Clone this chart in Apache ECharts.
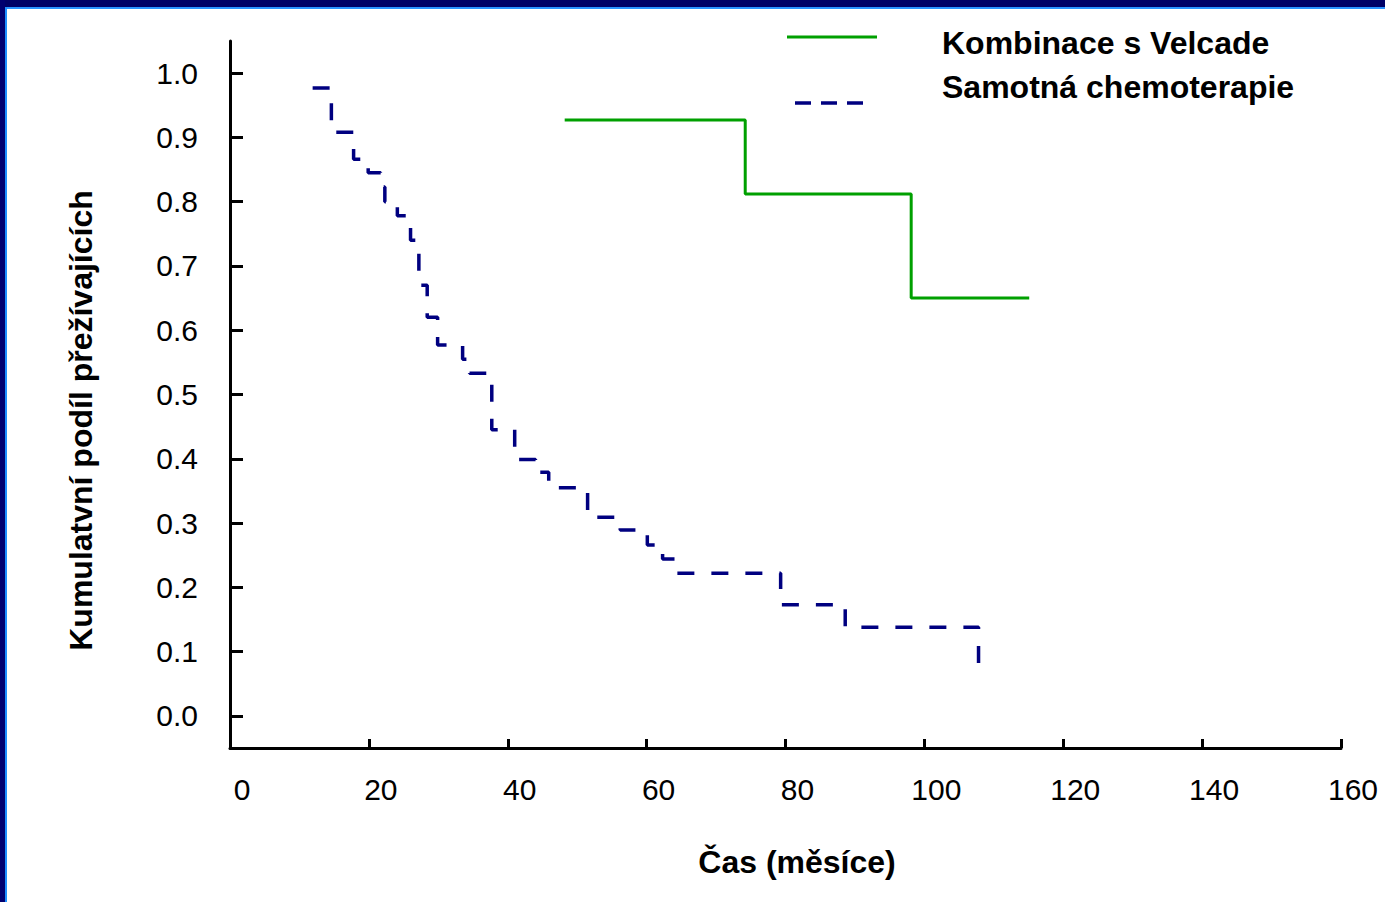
<!DOCTYPE html>
<html>
<head>
<meta charset="utf-8">
<script src="https://cdn.jsdelivr.net/npm/echarts@6/dist/echarts.min.js"></script>
<style>
    html, body { margin: 0; padding: 0; background: #fff; }
    #wrap { position: relative; width: 1385px; height: 902px; overflow: hidden; }
    #chart { position: absolute; left: 0; top: 0; width: 1385px; height: 902px; }
    /* slide frame: dark navy band with a thin light blue inner line */
    .frame { position: absolute; z-index: 5; }
    #frameTop { left: 0; top: 0; width: 1385px; height: 7px; background: #000066; }
    #frameTopIn { left: 5px; top: 7px; width: 1380px; height: 2px; background: #2b93ff; }
    #frameLeft { left: 0; top: 0; width: 5px; height: 902px; background: #000070; }
    #frameLeftIn { left: 5px; top: 7px; width: 2px; height: 895px; background: #1e8fff; }
</style>
</head>
<body>
<div id="wrap">
    <div id="chart"></div>
    <div class="frame" id="frameTop"></div>
    <div class="frame" id="frameTopIn"></div>
    <div class="frame" id="frameLeft"></div>
    <div class="frame" id="frameLeftIn"></div>
</div>
<script>
// survival curves (months, cumulative proportion surviving)
const velcadeName = 'Kombinace s Velcade';
const velcadeX = [48.2, 74.2, 98.1, 115.1];
const velcadeY = [0.927, 0.812, 0.650, 0.650];

const chemoName = 'Samotná chemoterapie';
const chemoX = [11.9, 14.6, 17.8, 19.9, 21.7, 22.3, 24.1, 26.0, 27.2, 28.4, 29.9, 33.5, 34.5,
    37.7, 41.0, 44.0, 45.9, 51.5, 56.2, 60.1, 62.3, 64.4, 79.3, 88.6, 107.8];
const chemoY = [0.977, 0.908, 0.866, 0.845, 0.823, 0.800, 0.778, 0.740, 0.670, 0.620, 0.577, 0.555, 0.533,
    0.445, 0.399, 0.379, 0.355, 0.309, 0.289, 0.266, 0.244, 0.222, 0.173, 0.138, 0.075];

// axis ticks
const xTicks = [0, 20, 40, 60, 80, 100, 120, 140, 160];
const yTicks = [0, 0.1, 0.2, 0.3, 0.4, 0.5, 0.6, 0.7, 0.8, 0.9, 1.0];

const xTitle = 'Čas (měsíce)';
const yTitle = 'Kumulatvní podíl přežívajících';

const FONT = '"Liberation Sans", Arial, sans-serif';
const GREEN = '#00a000';
const NAVY = '#000080';

const chart = echarts.init(document.getElementById('chart'), null, { renderer: 'svg' });

chart.setOption({
    animation: false,
    backgroundColor: '#fff',
    grid: { left: 230, right: 44, top: 41, bottom: 154 },
    xAxis: {
        type: 'value',
        min: xTicks[0],
        max: xTicks[xTicks.length - 1],
        interval: 20,
        name: xTitle,
        nameLocation: 'middle',
        nameGap: 98,
        nameTextStyle: { fontFamily: FONT, fontSize: 32, fontWeight: 'bold', color: '#000', padding: [0, 0, 0, 23] },
        axisLine: { onZero: false, lineStyle: { color: '#000', width: 3 } },
        axisTick: { inside: true, length: 9, lineStyle: { color: '#000', width: 3 } },
        axisLabel: {
            margin: 26,
            fontFamily: FONT, fontSize: 30, color: '#000',
            padding: [0, 0, 0, 24]
        },
        splitLine: { show: false }
    },
    yAxis: {
        type: 'value',
        min: -0.05,
        max: 1.05,
        name: yTitle,
        nameLocation: 'middle',
        nameGap: 133,
        nameTextStyle: { fontFamily: FONT, fontSize: 32, fontWeight: 'bold', color: '#000', padding: [0, 52, 0, 0] },
        axisLine: { show: true, lineStyle: { color: '#000', width: 3 } },
        axisTick: { inside: true, length: 13, customValues: yTicks, lineStyle: { color: '#000', width: 3 } },
        axisLabel: {
            margin: 32,
            customValues: yTicks,
            formatter: v => v.toFixed(1),
            fontFamily: FONT, fontSize: 30, color: '#000'
        },
        splitLine: { show: false }
    },
    series: [
        {
            name: velcadeName,
            type: 'line',
            step: 'end',
            showSymbol: false,
            data: velcadeX.map((x, i) => [x, velcadeY[i]]),
            lineStyle: { color: GREEN, width: 3, cap: 'butt' }
        },
        {
            name: chemoName,
            type: 'line',
            step: 'end',
            showSymbol: false,
            data: chemoX.map((x, i) => [x, chemoY[i]]),
            lineStyle: { color: NAVY, width: 3.5, type: [17, 17], cap: 'butt' }
        }
    ],
    // legend drawn by hand: the dashed key sits lower than its label
    graphic: [
        { type: 'line', shape: { x1: 787, y1: 37, x2: 877, y2: 37 }, style: { stroke: GREEN, lineWidth: 3 } },
        { type: 'line', shape: { x1: 795, y1: 103, x2: 863, y2: 103 }, style: { stroke: NAVY, lineWidth: 3.5, lineDash: [16, 10] } },
        { type: 'text', left: 942, top: 27, style: { text: velcadeName, font: 'bold 32px ' + FONT, fill: '#000' } },
        { type: 'text', left: 942, top: 71, style: { text: chemoName, font: 'bold 32px ' + FONT, fill: '#000' } }
    ]
});
</script>
</body>
</html>
